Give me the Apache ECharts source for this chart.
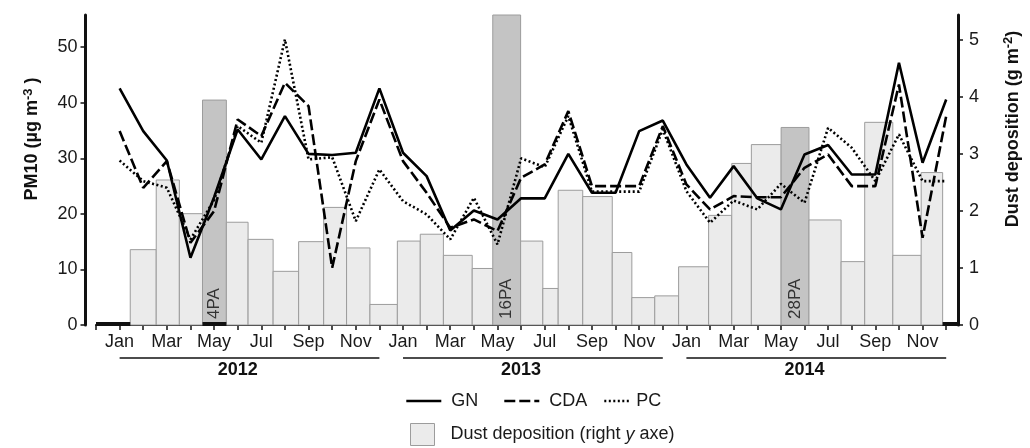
<!DOCTYPE html>
<html>
<head>
<meta charset="utf-8">
<title>PM10 and dust deposition</title>
<script src="https://cdn.jsdelivr.net/npm/echarts@6/dist/echarts.min.js"></script>
<style>
html, body { margin: 0; padding: 0; background: #fff; }
#main { width: 1030px; height: 448px; }
</style>
</head>
<body>
<div id="main"></div>
<script>
// x is counted in months: 0 = Jan 2012 ... 35 = Dec 2014
var monthNames = ['Jan', 'Feb', 'Mar', 'Apr', 'May', 'Jun', 'Jul', 'Aug', 'Sep', 'Oct', 'Nov', 'Dec'];
var monthLabelAt = [0, 2, 4, 6, 8, 10, 12, 14, 16, 18, 20, 22, 24, 26, 28, 30, 32, 34];
var pmTicks = [0, 10, 20, 30, 40, 50];
var dustTicks = [0, 1, 2, 3, 4, 5];

// PM10 monthly means (µg m-3)
var pm10GN = [42.6, 34.9, 29.6, 12.1, 23.0, 35.2, 29.8, 37.6, 30.8, 30.6, 31.0, 42.6,
  31.0, 26.8, 17.0, 20.6, 19.0, 22.8, 22.8, 30.8, 23.8, 23.8, 34.9, 36.8,
  28.9, 22.9, 28.6, 22.8, 20.8, 30.7, 32.4, 27.1, 27.1, 47.2, 29.2, 40.6];
var pm10CDA = [34.9, 24.7, 29.5, 14.8, 20.5, 37.0, 34.0, 43.6, 39.4, 10.3, 29.5, 40.6,
  29.5, 23.8, 17.5, 19.0, 16.9, 26.5, 28.9, 38.5, 25.0, 25.0, 25.0, 35.8,
  25.3, 20.8, 23.2, 23.0, 23.0, 28.3, 30.7, 25.0, 25.0, 43.3, 15.7, 37.6];
var pm10PC = [29.6, 25.9, 24.7, 15.4, 22.5, 35.8, 32.8, 51.4, 29.8, 30.2, 18.7, 28.0,
  22.3, 19.9, 15.4, 22.9, 14.5, 30.0, 28.4, 37.6, 24.0, 24.0, 24.0, 35.2,
  24.1, 18.4, 22.4, 20.8, 25.4, 22.0, 35.5, 31.9, 25.9, 34.3, 25.9, 25.9];

// dust deposition sampling periods (months) and amounts (g m-2)
var dustStart = [0.45, 1.55, 2.53, 3.51, 4.52, 5.44, 6.50, 7.58, 8.64, 9.61, 10.60,
  11.76, 12.73, 13.71, 14.93, 15.80, 16.98, 17.92, 18.57, 19.61, 20.86, 21.69,
  22.66, 23.67, 24.94, 25.92, 26.75, 28.01, 29.19, 30.55, 31.55, 32.74, 33.94];
var dustEnd = [1.55, 2.53, 3.51, 4.52, 5.44, 6.50, 7.58, 8.64, 9.61, 10.60, 11.76,
  12.73, 13.71, 14.93, 15.80, 16.98, 17.92, 18.57, 19.61, 20.86, 21.69, 22.66,
  23.67, 24.94, 25.92, 26.75, 28.01, 29.19, 30.55, 31.55, 32.74, 33.94, 34.85];
var dustValue = [1.32, 2.54, 1.95, 3.94, 1.80, 1.50, 0.94, 1.46, 2.06, 1.35, 0.36,
  1.47, 1.59, 1.22, 0.99, 5.43, 1.47, 0.64, 2.36, 2.25, 1.27, 0.48,
  0.51, 1.02, 1.92, 2.83, 3.16, 3.46, 1.84, 1.11, 3.55, 1.22, 2.67];
var dustTag = ['', '', '', '4PA', '', '', '', '', '', '', '',
  '', '', '', '', '16PA', '', '', '', '', '', '',
  '', '', '', '', '', '28PA', '', '', '', '', ''];

// periods with no deposition collected
var zeroStart = [-1, 3.51, 34.85];
var zeroEnd = [0.45, 4.52, 35.5];

// year brackets under the axis
var years = ['2012', '2013', '2014'];
var yearStart = [0, 12, 24];
var yearEnd = [11, 23, 35];
var yearLabelAt = [5, 17, 29];

var FONT = '"Liberation Sans", Arial, sans-serif';
var INK = '#111';

var tickVals = [];
for (var t = -1; t <= 35; t++) tickVals.push(t);

function pairs(arr) {
  return arr.map(function (v, i) { return [i, v]; });
}

var dustData = dustValue.map(function (v, i) { return [dustStart[i], dustEnd[i], v]; });
var zeroData = zeroStart.map(function (s, i) { return [s, zeroEnd[i], 0]; });
var yearData = years.map(function (y, i) { return [yearStart[i], yearEnd[i], yearLabelAt[i], 0]; });

function renderDust(params, api) {
  var p0 = api.coord([api.value(0), 0]);
  var p1 = api.coord([api.value(1), api.value(2)]);
  var tag = dustTag[params.dataIndex];
  var kids = [{
    type: 'rect',
    shape: { x: p0[0], y: p1[1], width: p1[0] - p0[0], height: p0[1] - p1[1] },
    style: { fill: tag ? '#c4c4c4' : '#ebebeb', stroke: '#9c9c9c', lineWidth: 1 }
  }];
  if (tag) {
    kids.push({
      type: 'text',
      x: (p0[0] + p1[0]) / 2,
      y: p0[1] - 6,
      rotation: Math.PI / 2,
      style: { text: tag, fill: '#333', fontSize: 17, fontFamily: FONT, align: 'left', verticalAlign: 'middle' }
    });
  }
  return { type: 'group', children: kids };
}

function renderZero(params, api) {
  var a = api.coord([api.value(0), 0]);
  var b = api.coord([api.value(1), 0]);
  return {
    type: 'line',
    shape: { x1: a[0], y1: a[1] - 1, x2: b[0], y2: b[1] - 1 },
    style: { stroke: INK, lineWidth: 4 }
  };
}

function renderYear(params, api) {
  var a = api.coord([api.value(0), 0]);
  var b = api.coord([api.value(1), 0]);
  var c = api.coord([api.value(2), 0]);
  return {
    type: 'group',
    children: [
      { type: 'line', shape: { x1: a[0], y1: a[1] + 33, x2: b[0], y2: b[1] + 33 }, style: { stroke: INK, lineWidth: 1.5 } },
      {
        type: 'text', x: c[0], y: c[1] + 45,
        style: { text: years[params.dataIndex], fill: INK, fontSize: 18, fontWeight: 'bold', fontFamily: FONT, align: 'center', verticalAlign: 'middle' }
      }
    ]
  };
}

function lineSeries(name, values, dash) {
  return {
    name: name,
    type: 'line',
    yAxisIndex: 0,
    data: pairs(values),
    symbol: 'none',
    z: 5,
    lineStyle: { color: '#000', width: 2.6, type: dash },
    itemStyle: { color: '#000' }
  };
}

function legendFor(name, left, width, gap) {
  return {
    data: [name],
    left: left,
    top: 392,
    padding: 0,
    itemWidth: width,
    itemHeight: 20,
    selectedMode: false,
    itemStyle: { opacity: 0 },
    lineStyle: { width: 2.6 },
    formatter: function (n) { return '{n|' + n + '}'; },
    textStyle: { rich: { n: { fontSize: 18, fontFamily: FONT, color: '#1a1a1a', padding: [0, 0, 0, gap] } } }
  };
}

var nameRich = {
  t: { fontSize: 18, fontWeight: 'bold', fontFamily: FONT, color: INK, verticalAlign: 'bottom' },
  s: { fontSize: 13, fontWeight: 'bold', fontFamily: FONT, color: INK, padding: [0, 0, 7, 0] }
};

var chart = echarts.init(document.getElementById('main'), null, { renderer: 'canvas' });

var option = {
  animation: false,
  backgroundColor: '#fff',
  grid: { left: 96, right: 67, top: 15, bottom: 123 },
  legend: [
    legendFor('GN', 405, 35, 5),
    legendFor('CDA', 503, 35, 5),
    legendFor('PC', 603, 25, 2),
    {
      data: [{ name: 'Dust deposition', icon: 'rect', itemStyle: { color: '#ebebeb', borderColor: '#9c9c9c', borderWidth: 1 } }],
      left: 410,
      top: 423,
      padding: 0,
      itemWidth: 24,
      itemHeight: 22,
      selectedMode: false,
      formatter: function () { return '{n|Dust deposition (right }{i|y}{n| axe)}'; },
      textStyle: {
        rich: {
          n: { fontSize: 18, fontFamily: FONT, color: '#1a1a1a' },
          i: { fontSize: 18, fontFamily: FONT, color: '#1a1a1a', fontStyle: 'italic' }
        },
        padding: [0, 0, 0, 11]
      }
    }
  ],
  xAxis: {
    type: 'value',
    min: -1,
    max: 35.5,
    interval: 1,
    splitLine: { show: false },
    axisLine: { onZero: false, lineStyle: { color: INK, width: 2 } },
    axisTick: { length: 5, lineStyle: { color: INK, width: 1.5 }, customValues: tickVals },
    axisLabel: {
      customValues: monthLabelAt,
      margin: 8,
      fontSize: 18,
      fontFamily: FONT,
      color: '#1a1a1a',
      formatter: function (v) { return monthNames[((v % 12) + 12) % 12]; }
    }
  },
  yAxis: [
    {
      type: 'value',
      position: 'left',
      offset: 10.5,
      min: 0,
      max: 55.8,
      interval: 10,
      splitLine: { show: false },
      axisLine: { show: true, onZero: false, lineStyle: { color: INK, width: 3 } },
      axisTick: { show: true, length: 5, lineStyle: { color: INK, width: 1.5 }, customValues: pmTicks },
      axisLabel: { customValues: pmTicks, margin: 8, fontSize: 18, fontFamily: FONT, color: '#1a1a1a' },
      name: '{t|PM10 (µg m}{s|-3}{t| )}',
      nameLocation: 'middle',
      nameRotate: 90,
      nameGap: 44,
      nameTextStyle: { padding: [0, 0, 0, 62], rich: nameRich }
    },
    {
      type: 'value',
      position: 'right',
      offset: 0,
      min: 0,
      max: 5.43,
      interval: 1,
      splitLine: { show: false },
      axisLine: { show: true, onZero: false, lineStyle: { color: INK, width: 3 } },
      axisTick: { show: true, length: 5, lineStyle: { color: INK, width: 1.5 }, customValues: dustTicks },
      axisLabel: { customValues: dustTicks, margin: 11, fontSize: 18, fontFamily: FONT, color: '#1a1a1a' },
      name: '{t|Dust deposition (g m}{s|-2}{t|)}',
      nameLocation: 'middle',
      nameRotate: 90,
      nameGap: 44,
      nameTextStyle: { padding: [0, 0, 0, 82], rich: nameRich }
    }
  ],
  series: [
    {
      name: 'Dust deposition',
      type: 'custom',
      yAxisIndex: 1,
      silent: true,
      z: 1,
      itemStyle: { color: '#ebebeb', borderColor: '#9c9c9c', borderWidth: 1 },
      encode: { x: [0, 1], y: 2 },
      data: dustData,
      renderItem: renderDust
    },
    {
      name: 'no deposition',
      type: 'custom',
      yAxisIndex: 1,
      silent: true,
      z: 3,
      encode: { x: [0, 1], y: 2 },
      data: zeroData,
      renderItem: renderZero
    },
    {
      name: 'years',
      type: 'custom',
      yAxisIndex: 0,
      silent: true,
      clip: false,
      z: 3,
      encode: { x: [0, 1, 2], y: 3 },
      data: yearData,
      renderItem: renderYear
    },
    lineSeries('GN', pm10GN, 'solid'),
    lineSeries('CDA', pm10CDA, [11, 4]),
    lineSeries('PC', pm10PC, [2, 2.5])
  ]
};

chart.setOption(option);
</script>
</body>
</html>
